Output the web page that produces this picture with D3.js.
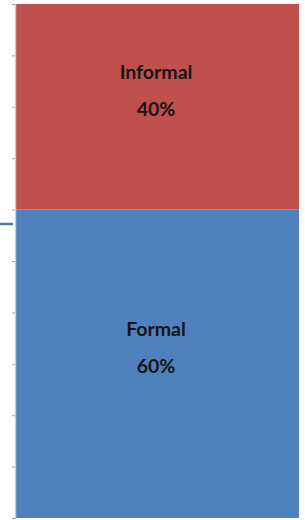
<!DOCTYPE html>
<html><head><meta charset="utf-8">
<script src="https://cdn.jsdelivr.net/npm/d3@7/dist/d3.min.js"></script>
<style>html,body{margin:0;padding:0;background:#fff;}svg{display:block;}</style>
</head><body>
<script>
const categories = ["Total"];
const seriesNames = ["Formal", "Informal"];
const seriesValues = [0.60, 0.40];
const seriesColors = ["#4f81bd", "#c0504d"];
const tickValues = [0,0.1,0.2,0.3,0.4,0.5,0.6,0.7,0.8,0.9,1];

const W = 305, H = 520;
const m = {top: 4, right: 6, bottom: 2, left: 15};
const svg = d3.select("body").append("svg").attr("width", W).attr("height", H);

const x = d3.scaleBand().domain(categories).range([m.left, W - m.right]).padding(0);
const y = d3.scaleLinear().domain([0, 1]).range([H - m.bottom, m.top]);

let acc = 0;
const segs = seriesNames.map((n, i) => {
  const s = {name: n, v: seriesValues[i], y0: acc, y1: acc + seriesValues[i], color: seriesColors[i]};
  acc += seriesValues[i];
  return s;
});

svg.selectAll("rect.seg").data(segs).enter().append("rect")
  .attr("class", "seg")
  .attr("x", x(categories[0]))
  .attr("width", x.bandwidth())
  .attr("y", d => y(d.y1))
  .attr("height", d => y(d.y0) - y(d.y1))
  .attr("fill", d => d.color);

const axis = d3.axisLeft(y).tickValues(tickValues).tickSize(3).tickFormat("");
const ag = svg.append("g").attr("transform", `translate(${m.left},0)`).call(axis);
ag.select(".domain").attr("stroke", "#d0d0d0").attr("stroke-width", 1.5);
ag.selectAll(".tick line").attr("stroke", "#a0a0a0");

const lg = svg.selectAll("g.lab").data(segs).enter().append("g")
  .attr("transform", d => `translate(${x(categories[0]) + x.bandwidth()/2 - 1},${(y(d.y0)+y(d.y1))/2})`);
lg.append("text").attr("y", -28).attr("text-anchor", "middle")
  .attr("font-family", "Lato, 'Open Sans', sans-serif").attr("font-weight", "bold")
  .attr("font-size", 19.5).attr("fill", "#151515").text(d => d.name);
lg.append("text").attr("y", 9).attr("text-anchor", "middle")
  .attr("font-family", "Lato, 'Open Sans', sans-serif").attr("font-weight", "bold")
  .attr("font-size", 19.5).attr("fill", "#151515").text(d => Math.round(d.v*100) + "%");

svg.append("line").attr("x1", 0).attr("x2", 13).attr("y1", 224).attr("y2", 224)
  .attr("stroke", "#4a78b5").attr("stroke-width", 2.5);
</script>
</body></html>
